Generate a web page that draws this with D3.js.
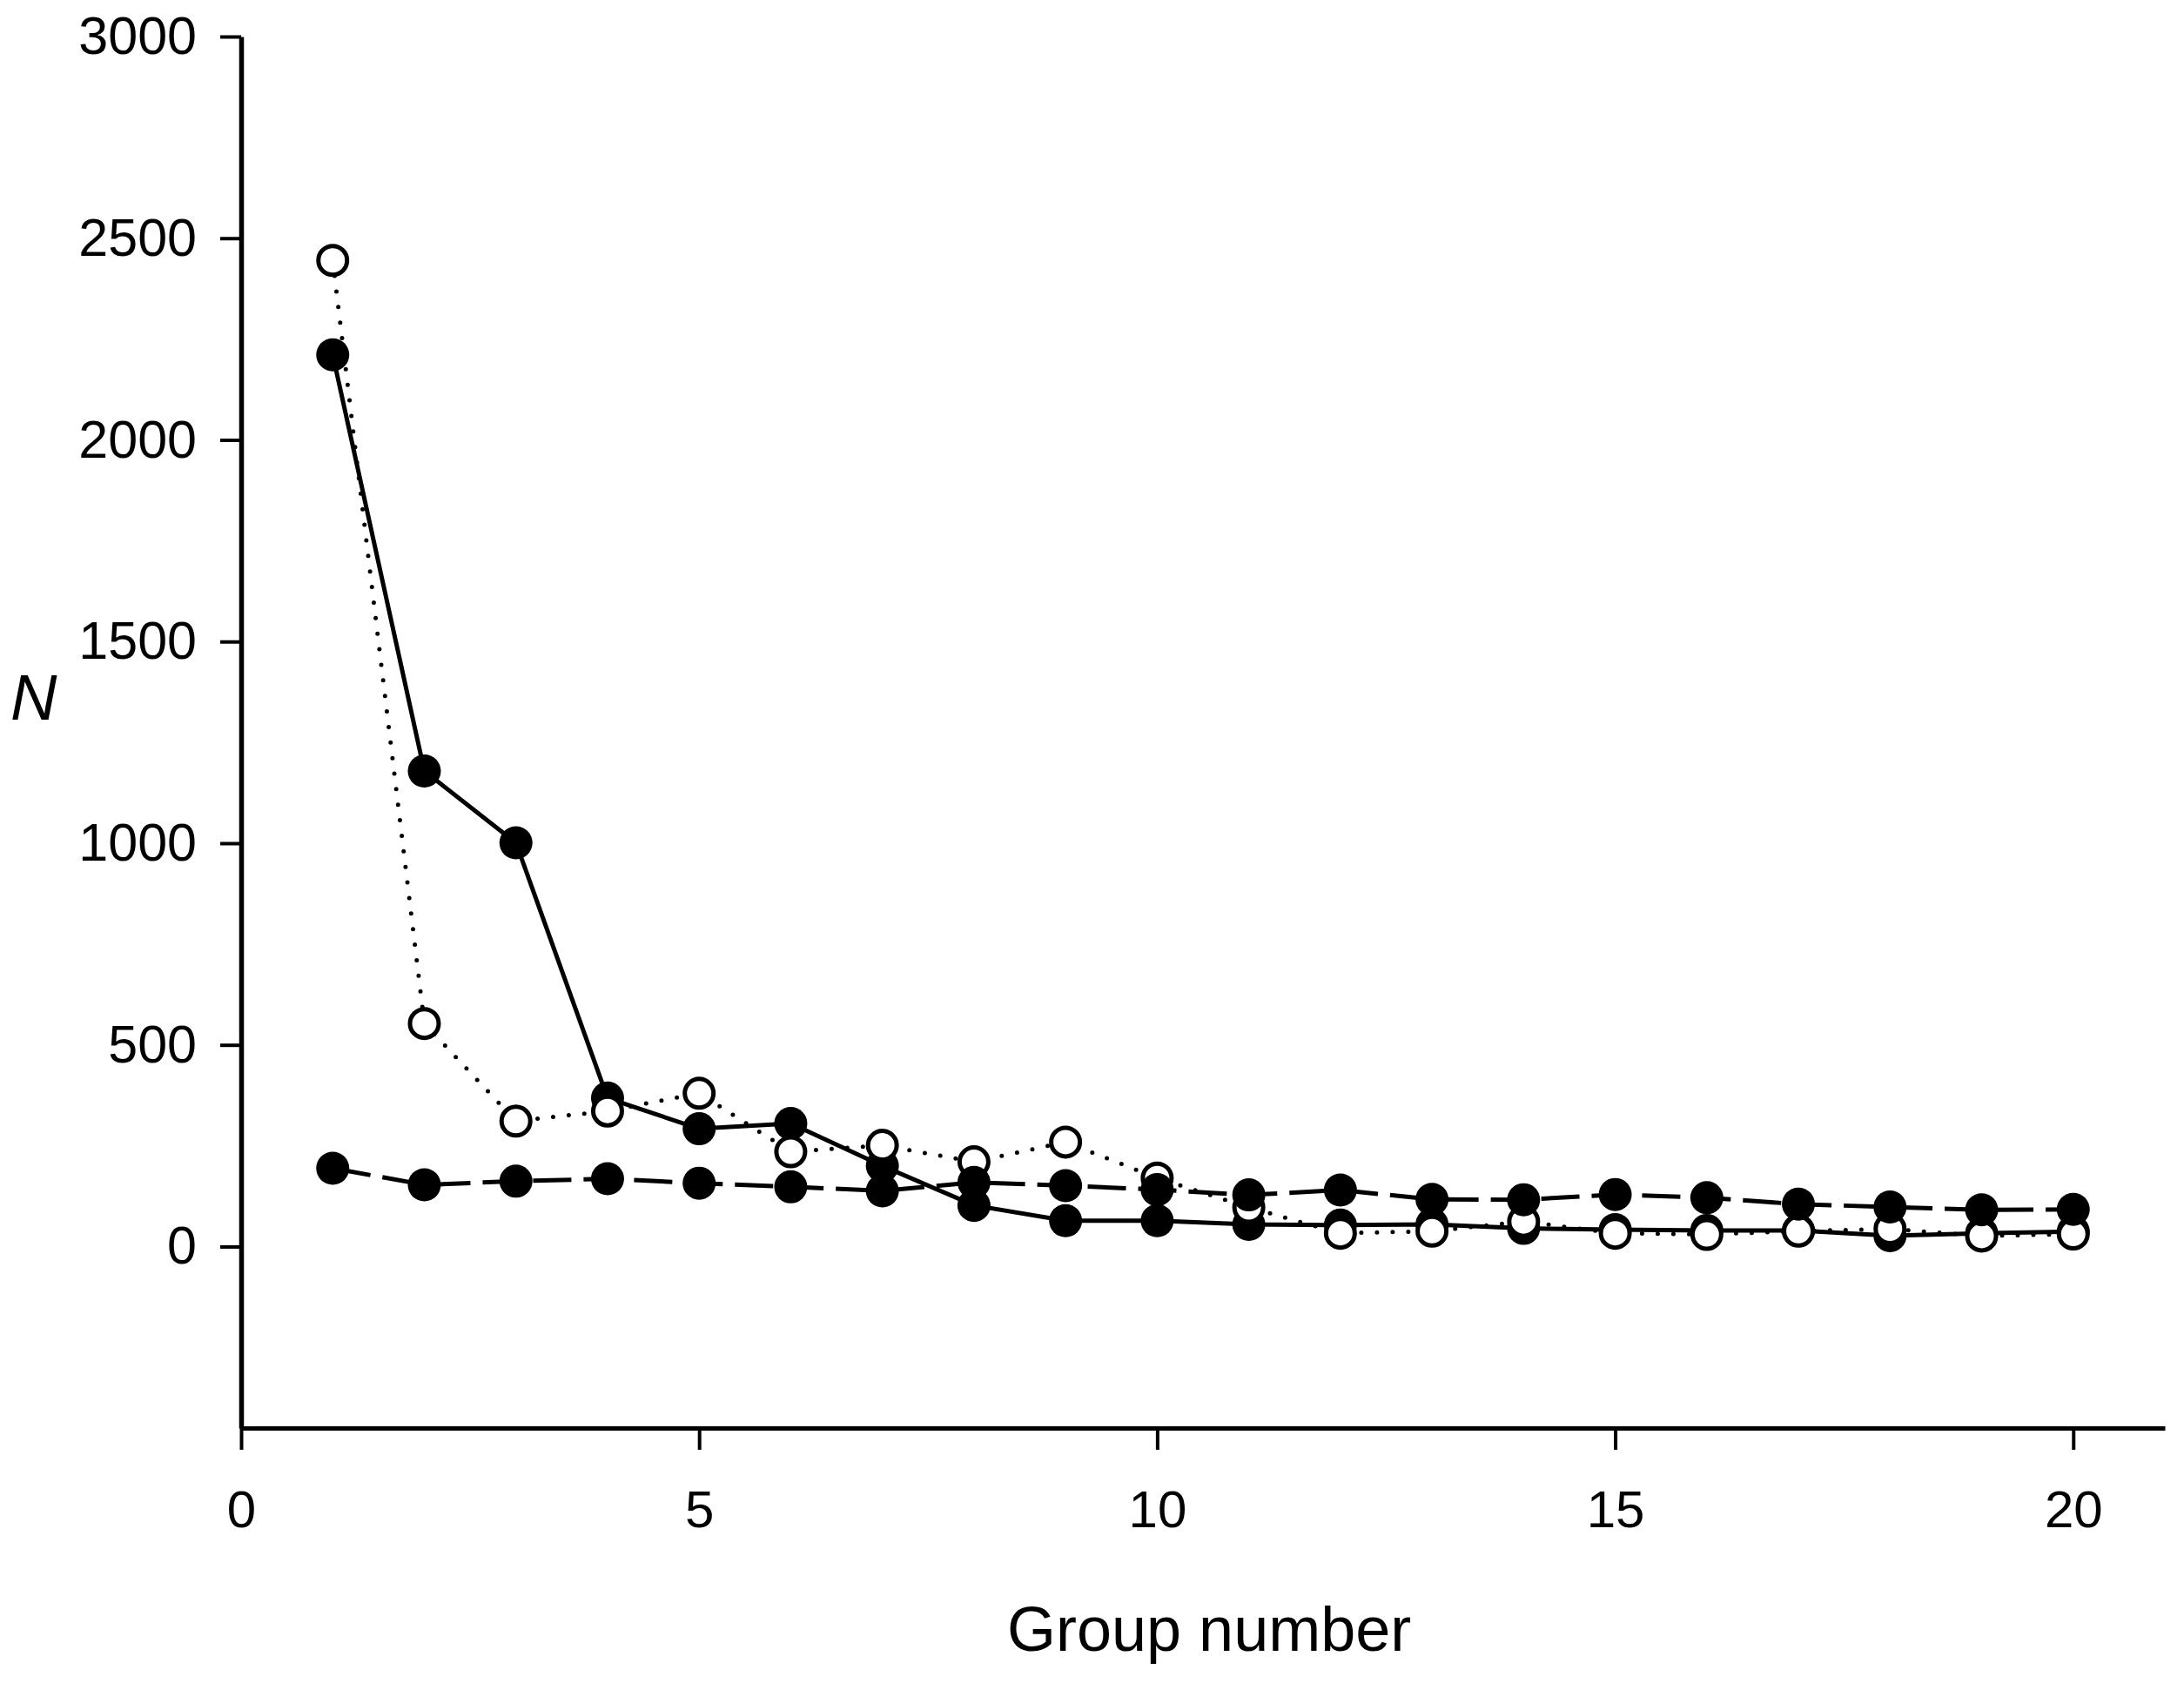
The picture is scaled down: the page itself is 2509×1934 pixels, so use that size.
<!DOCTYPE html>
<html>
<head>
<meta charset="utf-8">
<script src="https://cdn.jsdelivr.net/npm/d3@7"></script>
<style>
  html, body { margin: 0; padding: 0; background: #fff; }
  svg { display: block; }
  text { font-family: "Liberation Sans", Arial, sans-serif; fill: #000; }
</style>
</head>
<body>
<svg id="chart" width="2509" height="1934"></svg>
<script>
// ---- data ----
const groups = [1,2,3,4,5,6,7,8,9,10,11,12,13,14,15,16,17,18,19,20];
const seriesSolid  = [2211, 1179, 1001, 368, 292, 305, 200, 102, 64, 64, 55, 53, 55, 45, 42, 40, 40, 27, 33, 37];
const seriesOpen   = [2445, 553, 311, 336, 380, 235, 251, 210, 259, 170, 97, 33, 38, 62, 33, 30, 38, 44, 26, 31];
const seriesDashed = [194, 153, 162, 168, 157, 148, 138, 159, 151, 141, 128, 140, 117, 116, 129, 121, 105, 98, 91, 92];
const xTicks = [0, 5, 10, 15, 20];
const yTicks = [0, 500, 1000, 1500, 2000, 2500, 3000];
const xLabel = "Group number";
const yLabel = "N";

// ---- layout ----
const svg = d3.select("#chart");
svg.append("rect").attr("width", 2509).attr("height", 1934).attr("fill", "#fff");

const x = d3.scaleLinear().domain([0, 21]).range([277, 2487]);
const y = d3.scaleLinear().domain([-450, 3000]).range([1641, 42]);

// axes
const xAxis = d3.axisBottom(x).tickValues(xTicks).tickFormat(d3.format("d"))
  .tickSize(25).tickSizeOuter(0).tickPadding(46);
const gx = svg.append("g").attr("transform", `translate(0,${y(-450)})`).call(xAxis);
gx.select(".domain").attr("stroke", "#000").attr("stroke-width", 5);
gx.selectAll(".tick line").attr("stroke", "#000").attr("stroke-width", 4);
gx.selectAll(".tick text").attr("font-size", 60).attr("font-family", "Liberation Sans, Arial, sans-serif");

const yAxis = d3.axisLeft(y).tickValues(yTicks).tickFormat(d3.format("d"))
  .tickSize(24).tickSizeOuter(0).tickPadding(27);
const gy = svg.append("g").attr("transform", `translate(${x(0)},0)`).call(yAxis);
gy.select(".domain").attr("stroke", "#000").attr("stroke-width", 5.5);
gy.selectAll(".tick line").attr("stroke", "#000").attr("stroke-width", 4);
gy.selectAll(".tick text").attr("font-size", 61).attr("font-family", "Liberation Sans, Arial, sans-serif");

// axis titles
svg.append("text").attr("x", 1157).attr("y", 1897).attr("font-size", 72).text(xLabel);
svg.append("text").attr("x", 12).attr("y", 827).attr("font-size", 74).attr("font-style", "italic").text(yLabel);

const line = d3.line().x(d => x(d[0])).y(d => y(d[1]));
const zip = arr => groups.map((g, i) => [g, arr[i]]);

// solid series
svg.append("path").datum(zip(seriesSolid)).attr("d", line)
  .attr("fill", "none").attr("stroke", "#000").attr("stroke-width", 5);
svg.append("g").selectAll("circle").data(zip(seriesSolid)).join("circle")
  .attr("cx", d => x(d[0])).attr("cy", d => y(d[1])).attr("r", 19).attr("fill", "#000");

// dotted series with open circles
svg.append("path").datum(zip(seriesOpen)).attr("d", line)
  .attr("fill", "none").attr("stroke", "#000").attr("stroke-width", 5)
  .attr("stroke-linecap", "round").attr("stroke-dasharray", "0,18");
svg.append("g").selectAll("circle").data(zip(seriesOpen)).join("circle")
  .attr("cx", d => x(d[0])).attr("cy", d => y(d[1])).attr("r", 16.5)
  .attr("fill", "#fff").attr("stroke", "#000").attr("stroke-width", 5);

// dashed series
svg.append("path").datum(zip(seriesDashed)).attr("d", line)
  .attr("fill", "none").attr("stroke", "#000").attr("stroke-width", 5)
  .attr("stroke-dasharray", "44,14");
svg.append("g").selectAll("circle").data(zip(seriesDashed)).join("circle")
  .attr("cx", d => x(d[0])).attr("cy", d => y(d[1])).attr("r", 19).attr("fill", "#000");
</script>
</body>
</html>
